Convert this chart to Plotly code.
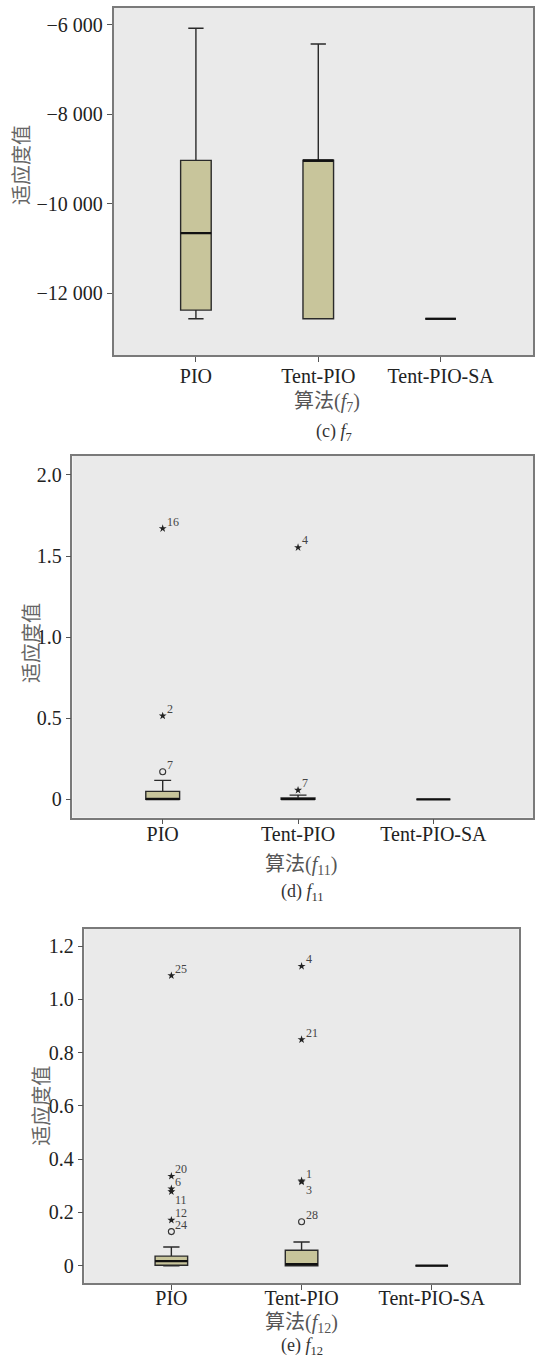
import plotly.graph_objects as go

W, H = 535, 1361

categories = ["PIO", "Tent-PIO", "Tent-PIO-SA"]

# ---- (c) f7 ----
f7_min = [-12570, -12570, -12570]
f7_q1 = [-12376, -12570, -12570]
f7_median = [-10653, -9030, -12570]
f7_q3 = [-9027, -9025, -12570]
f7_max = [-6074, -6425, -12570]
f7_out_cat, f7_out_val, f7_out_sym, f7_out_id, f7_out_below = [], [], [], [], []
f7_tickvals = [-12000, -10000, -8000, -6000]
f7_ticktext = ["\u221212 000", "\u221210 000", "\u22128 000", "\u22126 000"]

# ---- (d) f11 ----
f11_min = [0, 0, 0]
f11_q1 = [0, 0, 0]
f11_median = [0.001, 0.002, 0]
f11_q3 = [0.049, 0.008, 0]
f11_max = [0.117, 0.026, 0]
f11_out_cat = [0, 0, 0, 1, 1]
f11_out_val = [0.17, 0.515, 1.67, 0.057, 1.553]
f11_out_sym = ["o", "*", "*", "*", "*"]
f11_out_id = ["7", "2", "16", "7", "4"]
f11_out_below = [False, False, False, False, False]
f11_tickvals = [0, 0.5, 1.0, 1.5, 2.0]
f11_ticktext = ["0", "0.5", "1.0", "1.5", "2.0"]

# ---- (e) f12 ----
f12_min = [0, 0, 0]
f12_q1 = [0.002, 0, 0]
f12_median = [0.0176, 0.006, 0]
f12_q3 = [0.036, 0.058, 0]
f12_max = [0.07, 0.089, 0]
f12_out_cat = [0, 0, 0, 0, 0, 0, 1, 1, 1, 1, 1]
f12_out_val = [0.128, 0.171, 0.278, 0.289, 0.336, 1.089, 0.165, 0.315, 0.319, 0.849, 1.124]
f12_out_sym = ["o", "*", "*", "*", "*", "*", "o", "*", "*", "*", "*"]
f12_out_id = ["24", "12", "11", "6", "20", "25", "28", "3", "1", "21", "4"]
f12_out_below = [False, False, True, False, False, False, False, True, False, False, False]
f12_tickvals = [0, 0.2, 0.4, 0.6, 0.8, 1.0, 1.2]
f12_ticktext = ["0", "0.2", "0.4", "0.6", "0.8", "1.0", "1.2"]

panels = [
    dict(mn=f7_min, q1=f7_q1, med=f7_median, q3=f7_q3, mx=f7_max,
         oc=f7_out_cat, ov=f7_out_val, os=f7_out_sym, oi=f7_out_id, ob=f7_out_below,
         tv=f7_tickvals, tt=f7_ticktext, yr=[-13380, -5620], xr=[-0.673, 2.755],
         xd=[114 / W, 1.0], yd=[1 - 355 / H, 1 - 8 / H], standoff=-3,
         title_sub="7", cap="(c)", ytitle=(21, 165), xtitle=(328, 402), capxy=(335, 433)),
    dict(mn=f11_min, q1=f11_q1, med=f11_median, q3=f11_q3, mx=f11_max,
         oc=f11_out_cat, ov=f11_out_val, os=f11_out_sym, oi=f11_out_id, ob=f11_out_below,
         tv=f11_tickvals, tt=f11_ticktext, yr=[-0.113, 2.117], xr=[-0.667, 2.736],
         xd=[72.7 / W, 1.0], yd=[1 - 817.7 / H, 1 - 456 / H], standoff=-7,
         title_sub="11", cap="(d)", ytitle=(30, 643), xtitle=(302, 865), capxy=(304, 892)),
    dict(mn=f12_min, q1=f12_q1, med=f12_median, q3=f12_q3, mx=f12_max,
         oc=f12_out_cat, ov=f12_out_val, os=f12_out_sym, oi=f12_out_id, ob=f12_out_below,
         tv=f12_tickvals, tt=f12_ticktext, yr=[-0.066, 1.265], xr=[-0.668, 2.668],
         xd=[84.7 / W, 520.7 / W], yd=[1 - 1283.3 / H, 1 - 928.7 / H], standoff=-9,
         title_sub="12", cap="(e)", ytitle=(40, 1106), xtitle=(303, 1323), capxy=(303, 1346)),
]

BOX_W = 0.25
FILL = "#C8C59B"
BG = "#EAEAEA"
FRAME = "#7A7A7A"
SERIF = "Liberation Serif, serif"
MIXED = "Liberation Serif, Noto Sans CJK SC"

fig = go.Figure()
annotations = []
layout = {}

for i, p in enumerate(panels):
    n = "" if i == 0 else str(i + 1)
    xa, ya = "x" + n, "y" + n
    idx = list(range(len(categories)))
    fig.add_trace(go.Box(
        x=idx, q1=p["q1"], median=p["med"], q3=p["q3"],
        lowerfence=p["mn"], upperfence=p["mx"],
        width=BOX_W, whiskerwidth=0.5, fillcolor=FILL,
        line=dict(color="#2a2a2a", width=1.4), boxpoints=False,
        hoverinfo="skip", showlegend=False, xaxis=xa, yaxis=ya))
    # thicker median lines
    for c in idx:
        fig.add_trace(go.Scatter(
            x=[c - BOX_W / 2, c + BOX_W / 2], y=[p["med"][c], p["med"][c]],
            mode="lines", line=dict(color="#111111", width=2.3),
            hoverinfo="skip", showlegend=False, xaxis=xa, yaxis=ya))
    # outliers
    for sym, mk in (("*", dict(symbol="star", size=6, color="#222222")),
                    ("o", dict(symbol="circle-open", size=6, color="#333333",
                               line=dict(width=1.1, color="#333333")))):
        xs = [c for c, s in zip(p["oc"], p["os"]) if s == sym]
        ys = [v for v, s in zip(p["ov"], p["os"]) if s == sym]
        if xs:
            fig.add_trace(go.Scatter(x=xs, y=ys, mode="markers", marker=mk,
                                     hoverinfo="skip", showlegend=False,
                                     xaxis=xa, yaxis=ya))
    for c, v, lab, below in zip(p["oc"], p["ov"], p["oi"], p["ob"]):
        annotations.append(dict(
            x=c, y=v, xref=xa, yref=ya, text=lab, showarrow=False,
            xanchor="left", yanchor="middle", xshift=2,
            yshift=-8 if below else 7,
            font=dict(family=SERIF, size=12, color="#444444")))

    def axis_common(size):
        return dict(showline=True, linecolor=FRAME, linewidth=1.5, mirror=True,
                    showgrid=False, zeroline=False, ticks="outside", ticklen=5,
                    tickcolor="#555555", tickwidth=1,
                    tickfont=dict(family=SERIF, size=size, color="#222222"))
    layout["xaxis" + n] = dict(domain=p["xd"], range=p["xr"], anchor=ya,
                               tickmode="array", tickvals=idx, ticktext=categories,
                               ticklabelstandoff=p["standoff"],
                               **axis_common(20))
    layout["yaxis" + n] = dict(domain=p["yd"], range=p["yr"], anchor=xa,
                               tickmode="array", tickvals=p["tv"], ticktext=p["tt"],
                               **axis_common(20))

    # y axis title
    annotations.append(dict(
        x=p["ytitle"][0] / W, y=1 - p["ytitle"][1] / H, xref="paper", yref="paper",
        text="适应度值", textangle=-90, showarrow=False,
        xanchor="center", yanchor="middle",
        font=dict(family="Noto Sans CJK SC", size=20, color="#666666")))
    # x axis title
    annotations.append(dict(
        x=p["xtitle"][0] / W, y=1 - p["xtitle"][1] / H, xref="paper", yref="paper",
        text="算法(<i>f</i><sub>" + p["title_sub"] + "</sub>)", showarrow=False,
        xanchor="center", yanchor="middle",
        font=dict(family=MIXED, size=20, color="#555555")))
    # caption
    annotations.append(dict(
        x=p["capxy"][0] / W, y=1 - p["capxy"][1] / H, xref="paper", yref="paper",
        text=p["cap"] + " <i>f</i><sub>" + p["title_sub"] + "</sub>", showarrow=False,
        xanchor="center", yanchor="middle",
        font=dict(family=SERIF, size=18, color="#333333")))

fig.update_layout(
    width=W, height=H, margin=dict(l=0, r=0, t=0, b=0),
    font=dict(family=SERIF),
    paper_bgcolor="white", plot_bgcolor=BG, showlegend=False,
    annotations=annotations, **layout)

fig.write_html("out.html", include_plotlyjs=True, config={"displayModeBar": False})
